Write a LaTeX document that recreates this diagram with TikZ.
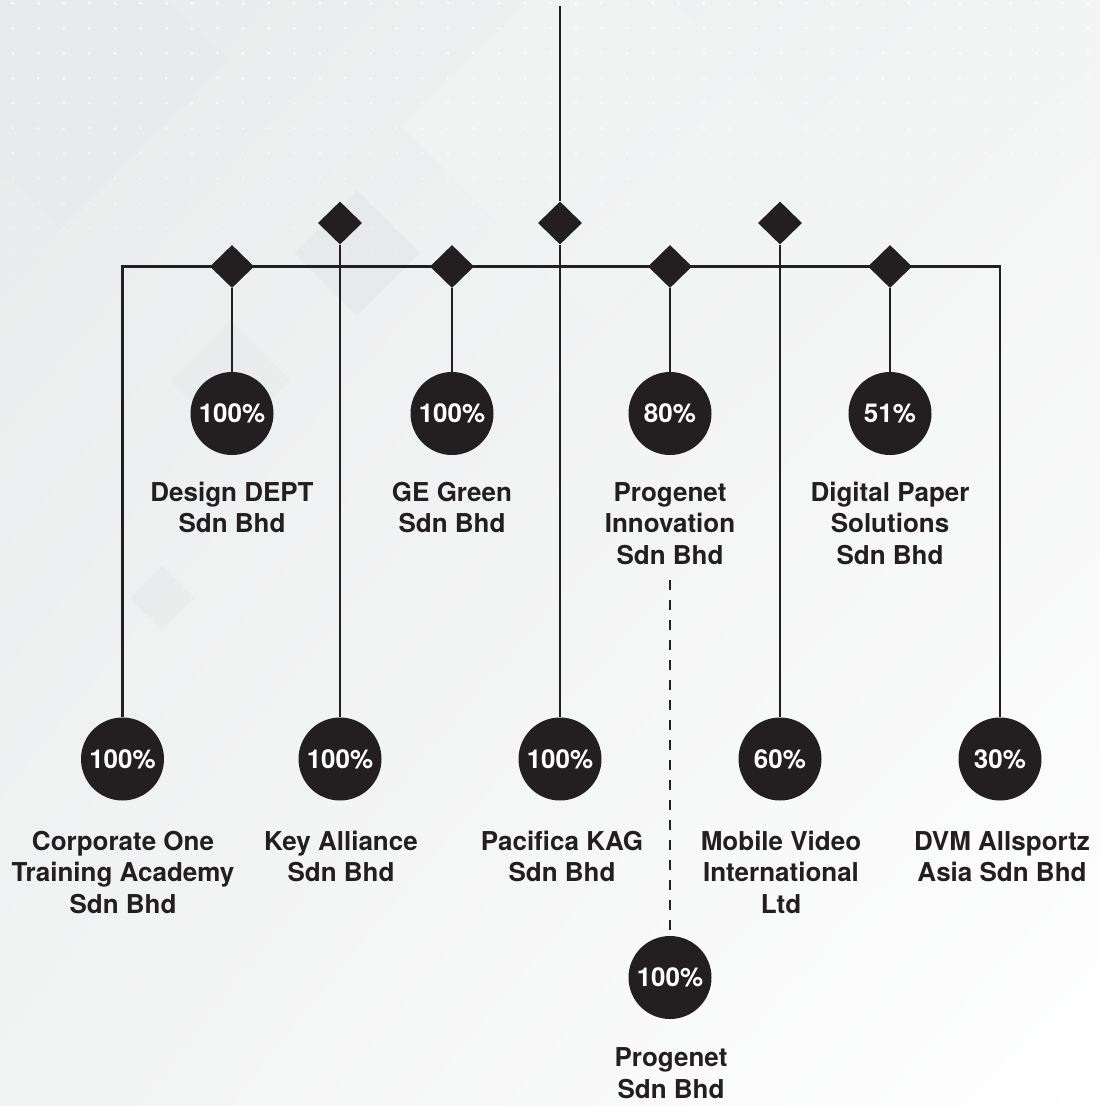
\documentclass[tikz,border=0pt]{standalone}
\usepackage{fontspec}
\setmainfont{TeX Gyre Heros}
\usetikzlibrary{shapes.geometric,shadings}
\definecolor{ink}{HTML}{231F20}
\definecolor{bgA}{HTML}{E9EAEB}
\definecolor{bgB}{HTML}{F3F4F4}
\definecolor{bgC}{HTML}{F2F3F3}
\definecolor{bgD}{HTML}{E4E5E6}
\begin{document}
\begin{tikzpicture}[x=1pt,y=-1pt,
  pct/.style={circle, fill=ink, text=white, minimum size=83pt, inner sep=0pt,
    font=\fontsize{26}{31.5}\selectfont\bfseries},
  dia/.style={diamond, fill=ink, minimum width=44pt, minimum height=43pt, inner sep=0pt},
  lbl/.style={text=ink, align=center, anchor=base, inner sep=0pt,
    font=\fontsize{26}{31.5}\selectfont\bfseries},
  link/.style={draw=ink, line width=2.2pt},
  dlink/.style={draw=ink, line width=2.5pt, dash pattern=on 10pt off 10pt}]
\useasboundingbox (0,0) rectangle (1100,1106);
% ---------- background ----------
\shade[upper left=bgA, upper right=bgB, lower left=bgC, lower right=white]
  (0,0) rectangle (1100,1106);
\fill[bgA, opacity=0.8] (60,-110) -- (230,60) -- (60,230) -- (-110,60) -- cycle;
\fill[bgB, opacity=0.6] (600,-70) -- (797,127) -- (600,324) -- (403,127) -- cycle;
\fill[bgD, opacity=0.6] (357,190) -- (420,253) -- (357,316) -- (294,253) -- cycle;
\fill[bgD, opacity=0.35] (230,320) -- (290,380) -- (230,440) -- (170,380) -- cycle;
\fill[bgD, opacity=0.4] (162,566) -- (194,598) -- (162,630) -- (130,598) -- cycle;
\foreach \r in {0,...,11}{
  \pgfmathsetmacro{\op}{0.9-0.07*\r}
  \foreach \c in {0,...,42}{
    \fill[white, opacity=\op] (12.7+25.6*\c, 3.3+25*\r) circle (1.6);
  }
}
% ---------- nodes ----------
\coordinate (top) at (560,6);
\node[dia] (u1) at (340,223) {};
\node[dia] (u2) at (560,223) {};
\node[dia] (u3) at (780,223) {};
\node[dia] (l1) at (232,266.5) {};
\node[dia] (l2) at (452,266.5) {};
\node[dia] (l3) at (670,266.5) {};
\node[dia] (l4) at (890,266.5) {};

\node[pct] (t1) at (232,413.5) {100\%};
\node[pct] (t2) at (452,413.5) {100\%};
\node[pct] (t3) at (670,413.5) {80\%};
\node[pct] (t4) at (890,413.5) {51\%};

\node[pct] (b1) at (122.5,759) {100\%};
\node[pct] (b2) at (340,759) {100\%};
\node[pct] (b3) at (560,759) {100\%};
\node[pct] (b4) at (780,759) {60\%};
\node[pct] (b5) at (1000,759) {30\%};

\node[pct] (pg) at (670,977.5) {100\%};

% labels: anchor=base is the baseline of the last line
\node[lbl] (lt1) at (232,532.5) {Design DEPT\\Sdn Bhd};
\node[lbl] (lt2) at (452,532.5) {GE Green\\Sdn Bhd};
\node[lbl] (lt3) at (670,564) {Progenet\\Innovation\\Sdn Bhd};
\node[lbl] (lt4) at (890,564) {Digital Paper\\Solutions\\Sdn Bhd};

\node[lbl] (lb1) at (123,913) {Corporate One\\Training Academy\\Sdn Bhd};
\node[lbl] (lb2) at (341,881.5) {Key Alliance\\Sdn Bhd};
\node[lbl] (lb3) at (562,881.5) {Pacifica KAG\\Sdn Bhd};
\node[lbl] (lb4) at (781,913) {Mobile Video\\International\\Ltd};
\node[lbl] (lb5) at (1002,881.5) {DVM Allsportz\\Asia Sdn Bhd};

\node[lbl] (lp) at (671,1098) {Progenet\\Sdn Bhd};

\coordinate (ds) at (670,580);
% ---------- connectors ----------
\draw[link] (top) -- (u2.north);
\draw[link] (b1.north) -- (b1.north |- l1) -- (b5.north |- l1) -- (b5.north);
\draw[link] (u1.south) -- (b2.north);
\draw[link] (u2.south) -- (b3.north);
\draw[link] (u3.south) -- (b4.north);
\draw[link] (l1.south) -- (t1.north);
\draw[link] (l2.south) -- (t2.north);
\draw[link] (l3.south) -- (t3.north);
\draw[link] (l4.south) -- (t4.north);
\draw[dlink, shorten >=6pt] (ds) -- (pg.north);
\end{tikzpicture}
\end{document}
